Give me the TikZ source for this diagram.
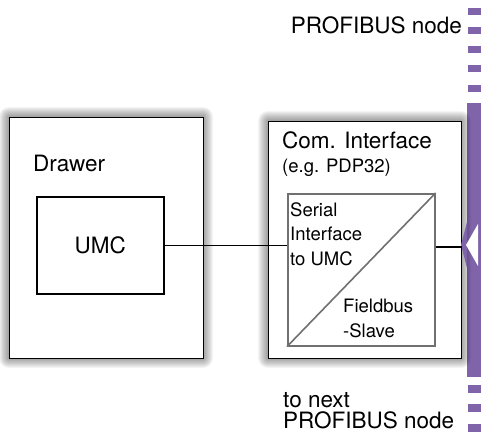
\documentclass[tikz,border=0pt]{standalone}
\usepackage{fontspec}
\setmainfont{TeX Gyre Heros}
\definecolor{bus}{RGB}{128,100,170}
\definecolor{inbox}{RGB}{112,112,112}
\begin{document}
\begin{tikzpicture}[x=1pt,y=-1pt,
  outerbox/.style={draw=black, line width=1pt, fill=white, inner sep=0pt, anchor=north west},
  umcbox/.style={draw=black, line width=1.5pt, fill=white, inner sep=0pt, anchor=north west},
  convbox/.style={draw=inbox, line width=1.6pt, fill=white, inner sep=0pt, anchor=north west},
  bigtext/.style={inner sep=0pt, font=\fontsize{22.5}{21}\selectfont},
  smalltext/.style={inner sep=0pt, font=\fontsize{18.5}{24.5}\selectfont, align=left},
  conn/.style={draw=black, line width=1.2pt},
  busfill/.style={fill=bus},
  shadowlayer/.style={fill=black, fill opacity=0.045}]
\useasboundingbox (0,0) rectangle (481,439);

% bus
\fill[busfill] (467,103) rectangle (481,377);
\foreach \yy in {8,27,46,65,85} \fill[busfill] (468,\yy) rectangle (481,\yy+7);
\foreach \yy in {385,404,424} \fill[busfill] (468,\yy) rectangle (481,\yy+8);

% soft shadows
\foreach \s in {1,...,10} {
  \fill[shadowlayer, rounded corners=\s pt] (9-\s,117-\s) rectangle (203+\s,358+\s);
  \fill[shadowlayer, rounded corners=\s pt] (268-\s,121-\s) rectangle (461+\s,358+\s);
}

% boxes
\node[outerbox, minimum width=194pt, minimum height=241pt] (drawer) at (9,117) {};
\node[outerbox, minimum width=193pt, minimum height=237pt] (com) at (268,121) {};
\node[umcbox, minimum width=127pt, minimum height=97pt] (umc) at (36,196) {};
\node[convbox, minimum width=147pt, minimum height=152pt] (conv) at (287,193) {};
\draw[draw=inbox, line width=1.6pt] (conv.south west) -- (conv.north east);

% notch on bus
\fill[busfill] (467,222) -- (461,245) -- (467,268) -- cycle;
\fill[white] (466,245) -- (478,224) -- (478,266) -- cycle;
\coordinate (tap) at (462,247);

% connectors
\draw[conn] (umc.east) -- (umc.east -| conv.west);
\draw[conn] (conv.east |- tap) -- (tap);

% texts
\node[bigtext, anchor=base west] (tdrawer) at (33,171) {Drawer};
\node[bigtext] (tumc) at (umc.center) {UMC};
\node[bigtext, anchor=base west] (tcom) at (282,148) {Com. Interface};
\node[smalltext, anchor=base west] (tpdp) at (282,172) {(e.g. PDP32)};
\node[smalltext, anchor=north west] (tser) at (290,202) {Serial\\Interface\\to UMC};
\node[smalltext, anchor=north west] (tfb) at (343,299) {Fieldbus\\-Slave};
\node[bigtext, anchor=base east] (ttop) at (462,33) {PROFIBUS node};
\node[bigtext, anchor=north west, align=left] (tbot) at (283,392) {to next\\PROFIBUS node};
\end{tikzpicture}
\end{document}
